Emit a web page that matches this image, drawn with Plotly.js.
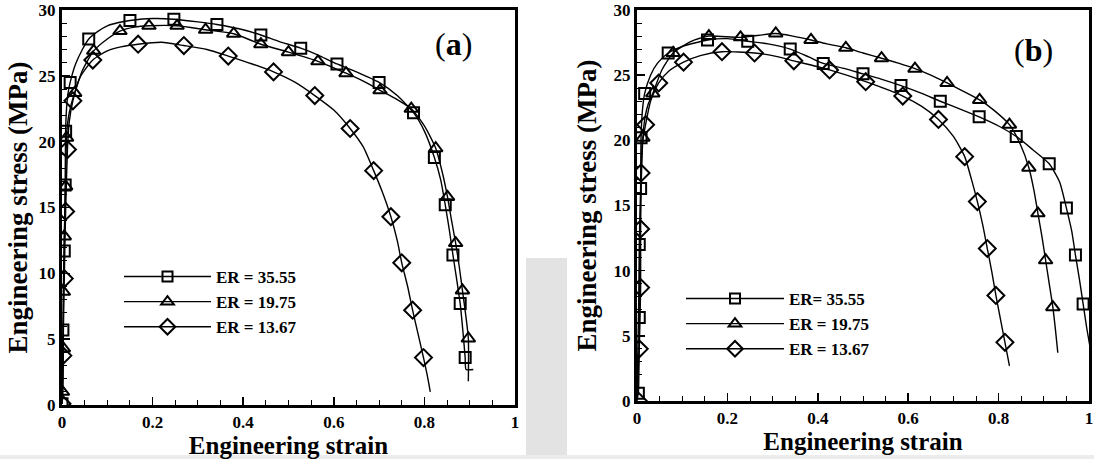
<!DOCTYPE html>
<html><head><meta charset="utf-8">
<script src="https://cdn.plot.ly/plotly-3.0.1.min.js"></script>
<style>html,body{margin:0;padding:0;background:#fff;}</style>
</head><body>
<div id="chart" style="width:1094px;height:459px;"></div>
<script>
// ---------- Panel (a) ----------
const seriesNames = ['ER = 35.55', 'ER = 19.75', 'ER = 13.67'];
const seriesNamesB = ['ER= 35.55', 'ER = 19.75', 'ER = 13.67'];

const strainA1 = [0, 0.002, 0.005, 0.007, 0.008, 0.010, 0.013, 0.018, 0.03, 0.045, 0.059, 0.08, 0.1, 0.125, 0.15, 0.2, 0.247, 0.3, 0.342, 0.4, 0.439, 0.48, 0.527, 0.57, 0.607, 0.65, 0.70, 0.74, 0.776, 0.80, 0.822, 0.836, 0.846, 0.855, 0.863, 0.871, 0.879, 0.885, 0.89, 0.892, 0.908];
const stressA1 = [0.1, 5.7, 11.7, 16.7, 20.8, 22.5, 23.6, 24.5, 25.9, 27.0, 27.8, 28.4, 28.8, 29.05, 29.2, 29.35, 29.3, 29.1, 28.9, 28.5, 28.1, 27.6, 27.1, 26.5, 25.9, 25.3, 24.5, 23.5, 22.2, 20.8, 18.8, 17.1, 15.2, 13.3, 11.4, 9.6, 7.7, 5.6, 3.6, 2.7, 2.7];
const markStrainA1 = [0, 0.002, 0.005, 0.007, 0.008, 0.018, 0.059, 0.15, 0.247, 0.342, 0.439, 0.527, 0.607, 0.70, 0.776, 0.822, 0.846, 0.863, 0.879, 0.89];
const markStressA1 = [0.1, 5.7, 11.7, 16.7, 20.8, 24.5, 27.8, 29.2, 29.3, 28.9, 28.1, 27.1, 25.9, 24.5, 22.2, 18.8, 15.2, 11.4, 7.7, 3.6];

const strainA2 = [0, 0.002, 0.003, 0.003, 0.005, 0.008, 0.010, 0.014, 0.02, 0.028, 0.045, 0.07, 0.1, 0.128, 0.16, 0.192, 0.254, 0.317, 0.379, 0.439, 0.50, 0.565, 0.627, 0.665, 0.702, 0.74, 0.771, 0.80, 0.825, 0.84, 0.851, 0.86, 0.869, 0.877, 0.884, 0.891, 0.897, 0.897];
const stressA2 = [0.1, 1.0, 4.3, 8.6, 12.8, 16.6, 20.3, 21.8, 22.8, 23.7, 25.4, 26.9, 27.8, 28.4, 28.7, 28.8, 28.8, 28.5, 28.2, 27.4, 26.8, 26.1, 25.2, 24.6, 23.9, 23.2, 22.5, 21.2, 19.5, 17.6, 15.8, 14.0, 12.3, 10.5, 8.7, 6.9, 5.05, 1.8];
const markStrainA2 = [0.001, 0.003, 0.003, 0.005, 0.008, 0.010, 0.028, 0.07, 0.128, 0.192, 0.254, 0.317, 0.379, 0.439, 0.50, 0.565, 0.627, 0.702, 0.771, 0.825, 0.851, 0.869, 0.884, 0.897];
const markStressA2 = [1.0, 4.3, 8.6, 12.8, 16.6, 20.3, 23.7, 26.9, 28.4, 28.8, 28.8, 28.5, 28.2, 27.4, 26.8, 26.1, 25.2, 23.9, 22.5, 19.5, 15.8, 12.3, 8.7, 5.05];

const strainA3 = [0, 0.002, 0.005, 0.008, 0.012, 0.016, 0.024, 0.04, 0.068, 0.1, 0.13, 0.168, 0.22, 0.269, 0.32, 0.367, 0.42, 0.467, 0.515, 0.558, 0.6, 0.636, 0.665, 0.688, 0.708, 0.726, 0.74, 0.75, 0.763, 0.774, 0.786, 0.798, 0.806, 0.813];
const stressA3 = [0.1, 3.75, 9.6, 14.7, 19.4, 21.5, 23.1, 24.9, 26.2, 26.9, 27.2, 27.4, 27.55, 27.3, 27.0, 26.5, 25.9, 25.3, 24.5, 23.5, 22.4, 21.0, 19.6, 17.8, 16.1, 14.3, 12.5, 10.8, 9.0, 7.2, 5.4, 3.6, 2.3, 1.0];
const markStrainA3 = [0, 0.002, 0.005, 0.008, 0.012, 0.024, 0.068, 0.168, 0.269, 0.367, 0.467, 0.558, 0.636, 0.688, 0.726, 0.75, 0.774, 0.798];
const markStressA3 = [0.1, 3.75, 9.6, 14.7, 19.4, 23.1, 26.2, 27.4, 27.3, 26.5, 25.3, 23.5, 21.0, 17.8, 14.3, 10.8, 7.2, 3.6];

// ---------- Panel (b) ----------
const strainB1 = [0, 0.003, 0.005, 0.005, 0.008, 0.009, 0.012, 0.017, 0.03, 0.045, 0.069, 0.1, 0.156, 0.2, 0.245, 0.29, 0.339, 0.38, 0.412, 0.46, 0.50, 0.54, 0.584, 0.63, 0.671, 0.715, 0.757, 0.80, 0.839, 0.875, 0.912, 0.935, 0.95, 0.962, 0.97, 0.979, 0.987, 0.995, 1.003];
const stressB1 = [0.1, 0.6, 6.4, 12.0, 16.3, 20.2, 22.3, 23.6, 25.0, 25.9, 26.7, 27.2, 27.7, 27.8, 27.6, 27.4, 27.0, 26.4, 25.9, 25.5, 25.1, 24.7, 24.2, 23.6, 23.0, 22.4, 21.8, 21.1, 20.3, 19.3, 18.2, 16.8, 14.8, 13.0, 11.2, 9.3, 7.45, 5.6, 4.0];
const markStrainB1 = [0.003, 0.005, 0.005, 0.008, 0.009, 0.017, 0.069, 0.156, 0.245, 0.339, 0.412, 0.50, 0.584, 0.671, 0.757, 0.839, 0.912, 0.95, 0.97, 0.987];
const markStressB1 = [0.6, 6.4, 12.0, 16.3, 20.2, 23.6, 26.7, 27.7, 27.6, 27.0, 25.9, 25.1, 24.2, 23.0, 21.8, 20.3, 18.2, 14.8, 11.2, 7.45];

const strainB2 = [0, 0.004, 0.008, 0.013, 0.018, 0.025, 0.035, 0.055, 0.08, 0.12, 0.159, 0.229, 0.307, 0.345, 0.385, 0.42, 0.462, 0.5, 0.541, 0.58, 0.615, 0.65, 0.686, 0.72, 0.758, 0.79, 0.824, 0.848, 0.867, 0.878, 0.887, 0.896, 0.904, 0.912, 0.92, 0.926, 0.931];
const stressB2 = [0.1, 8.0, 15.0, 20.2, 21.8, 22.8, 23.6, 25.4, 26.7, 27.6, 28.0, 27.9, 28.2, 28.0, 27.7, 27.4, 27.1, 26.7, 26.3, 25.9, 25.5, 25.0, 24.4, 23.8, 23.1, 22.3, 21.2, 19.7, 17.9, 16.2, 14.4, 12.6, 10.8, 9.0, 7.2, 5.4, 3.7];
const markStrainB2 = [0.013, 0.035, 0.08, 0.159, 0.229, 0.307, 0.385, 0.462, 0.541, 0.615, 0.686, 0.758, 0.824, 0.867, 0.887, 0.904, 0.92];
const markStressB2 = [20.2, 23.6, 26.7, 28.0, 27.9, 28.2, 27.7, 27.1, 26.3, 25.5, 24.4, 23.1, 21.2, 17.9, 14.4, 10.8, 7.2];

const strainB3 = [0, 0.005, 0.008, 0.008, 0.009, 0.012, 0.019, 0.03, 0.048, 0.07, 0.103, 0.14, 0.188, 0.26, 0.3, 0.347, 0.426, 0.506, 0.588, 0.63, 0.667, 0.7, 0.725, 0.74, 0.753, 0.765, 0.775, 0.785, 0.794, 0.804, 0.814, 0.824];
const stressB3 = [0, 4.0, 8.7, 13.2, 17.5, 19.8, 21.2, 23.0, 24.4, 25.3, 26.0, 26.5, 26.8, 26.7, 26.5, 26.1, 25.4, 24.5, 23.4, 22.6, 21.6, 20.3, 18.75, 17.0, 15.3, 13.5, 11.7, 9.9, 8.1, 6.3, 4.5, 2.7];
const markStrainB3 = [0.003, 0.005, 0.008, 0.008, 0.009, 0.019, 0.048, 0.103, 0.188, 0.26, 0.347, 0.426, 0.506, 0.588, 0.667, 0.725, 0.753, 0.775, 0.794, 0.814];
const markStressB3 = [0, 4.0, 8.7, 13.2, 17.5, 21.2, 24.4, 26.0, 26.8, 26.7, 26.1, 25.4, 24.5, 23.4, 21.6, 18.75, 15.3, 11.7, 8.1, 4.5];

const strainTicks = [0, 0.2, 0.4, 0.6, 0.8, 1];
const stressTicks = [0, 5, 10, 15, 20, 25, 30];

// ---------- Build ----------
const symbols = ['square-open', 'triangle-up-open', 'diamond-open'];
const msizes = [11, 12, 13];
const FONT = 'Liberation Serif';

function mk(sym, size) {
  return {symbol: sym, size: size, color: 'black', line: {width: 2, color: 'black'}};
}

const traces = [];
function addSeries(cx, cy, mx, my, i, xa, ya, leg, name) {
  traces.push({x: cx, y: cy, mode: 'lines', xaxis: xa, yaxis: ya, showlegend: false,
    line: {color: 'black', width: 1.4, shape: 'spline', smoothing: 0.6}, hoverinfo: 'skip'});
  traces.push({x: mx, y: my, mode: 'markers', xaxis: xa, yaxis: ya, showlegend: false,
    marker: mk(symbols[i], msizes[i]), hoverinfo: 'skip'});
  traces.push({x: [null], y: [null], mode: 'lines+markers', xaxis: xa, yaxis: ya, name: name,
    legend: leg, line: {color: 'black', width: 1.4}, marker: mk(symbols[i], msizes[i] - 1)});
}
addSeries(strainA1, stressA1, markStrainA1, markStressA1, 0, 'x', 'y', 'legend', seriesNames[0]);
addSeries(strainA2, stressA2, markStrainA2, markStressA2, 1, 'x', 'y', 'legend', seriesNames[1]);
addSeries(strainA3, stressA3, markStrainA3, markStressA3, 2, 'x', 'y', 'legend', seriesNames[2]);
addSeries(strainB1, stressB1, markStrainB1, markStressB1, 0, 'x2', 'y2', 'legend2', seriesNamesB[0]);
addSeries(strainB2, stressB2, markStrainB2, markStressB2, 1, 'x2', 'y2', 'legend2', seriesNamesB[1]);
addSeries(strainB3, stressB3, markStrainB3, markStressB3, 2, 'x2', 'y2', 'legend2', seriesNamesB[2]);

const W = 1094, H = 459;
const tickFont = {family: FONT, size: 17, weight: 700, color: 'black'};
const titleFont = {family: FONT, size: 25, weight: 700, color: 'black'};
const yTitleFont = {family: FONT, size: 27, weight: 700, color: 'black'};

function xAx(domain, standoff) {
  return {domain: domain, range: [0, 1], tickvals: strainTicks, ticktext: strainTicks.map(String),
    showline: true, linewidth: 3, linecolor: 'black', mirror: true,
    ticks: 'inside', ticklen: 8, tickwidth: 1.5, tickcolor: 'black', ticklabeloverflow: 'allow',
    minor: {dtick: 0.05, ticks: 'inside', ticklen: 5, tickwidth: 1, tickcolor: 'black'},
    showgrid: false, zeroline: false, tickfont: tickFont, fixedrange: true,
    title: {text: 'Engineering strain', font: titleFont, standoff: standoff}};
}
function yAx(domain, anchor, standoff) {
  return {domain: domain, anchor: anchor, range: [0, 30], tickvals: stressTicks, ticktext: stressTicks.map(String),
    showline: true, linewidth: 3, linecolor: 'black', mirror: true,
    ticks: 'inside', ticklen: 8, tickwidth: 1.5, tickcolor: 'black', ticklabeloverflow: 'allow',
    minor: {dtick: 1, ticks: 'inside', ticklen: 5, tickwidth: 1, tickcolor: 'black'},
    showgrid: false, zeroline: false, tickfont: tickFont, fixedrange: true,
    title: {text: 'Engineering stress (MPa)', font: yTitleFont, standoff: standoff}};
}

const xa = xAx([62 / W, 515 / W], 7); xa.anchor = 'y';
const xb = xAx([637 / W, 1089 / W], 5); xb.anchor = 'y2';
const ya = yAx([1 - 405 / H, 1 - 10 / H], 'x', 4);
const yb = yAx([1 - 401 / H, 1 - 10 / H], 'x2', 10);

const legendBase = {bgcolor: 'rgba(0,0,0,0)', borderwidth: 0, xanchor: 'left', yanchor: 'top',
  font: {family: FONT, size: 17, weight: 700, color: 'black'}, tracegroupgap: 0};

const layout = {
  width: W, height: H, margin: {l: 0, r: 0, t: 0, b: 0},
  paper_bgcolor: 'white', plot_bgcolor: 'white', showlegend: true,
  xaxis: xa, yaxis: ya, xaxis2: xb, yaxis2: yb,
  legend: Object.assign({}, legendBase, {x: 119 / W, y: 1 - 259 / H, itemwidth: 87}),
  legend2: Object.assign({}, legendBase, {x: 681 / W, y: 1 - 281 / H, itemwidth: 98}),
  shapes: [
    {type: 'rect', xref: 'paper', yref: 'paper', layer: 'below', x0: 526 / W, x1: 567 / W, y0: 0, y1: 1 - 258 / H,
      fillcolor: '#e3e3e3', line: {width: 0}},
    {type: 'rect', xref: 'paper', yref: 'paper', layer: 'below', x0: 0, x1: 1, y0: 0, y1: 4 / H,
      fillcolor: '#ececec', line: {width: 0}}
  ],
  annotations: [
    {text: '(<b>a</b>)', xref: 'paper', yref: 'paper', x: 453 / W, y: 1 - 44 / H, showarrow: false,
      xanchor: 'center', yanchor: 'middle', font: {family: FONT, size: 32, color: 'black'}},
    {text: '(<b>b</b>)', xref: 'paper', yref: 'paper', x: 1033 / W, y: 1 - 50 / H, showarrow: false,
      xanchor: 'center', yanchor: 'middle', font: {family: FONT, size: 32, color: 'black'}}
  ]
};

Plotly.newPlot('chart', traces, layout, {displayModeBar: false, staticPlot: true});
</script>
</body></html>
